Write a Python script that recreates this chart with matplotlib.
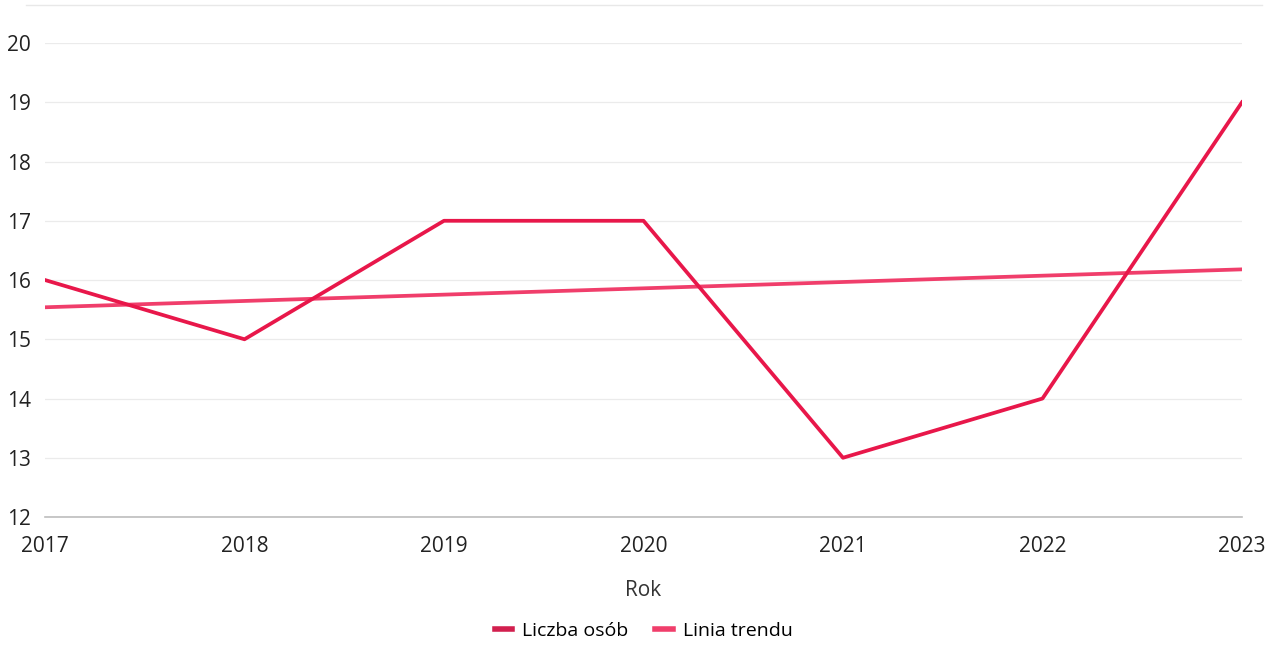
import matplotlib as mpl
import matplotlib.pyplot as plt

mpl.use('Agg')
plt.rcParams['font.family'] = ['Open Sans', 'DejaVu Sans']

years = [2017, 2018, 2019, 2020, 2021, 2022, 2023]
liczba_osob = [16, 15, 17, 17, 13, 14, 19]
trend_years = [2017, 2023]
trend_values = [15.54, 16.18]
y_ticks = [12, 13, 14, 15, 16, 17, 18, 19, 20]

fig = plt.figure(figsize=(12.75, 6.45), dpi=100)
ax = fig.add_axes([0.0353, 0.1984, 0.9388, 0.7349])

ax.plot(years, liczba_osob, color='#E8174A', lw=2.7, label='Liczba osób',
        zorder=3)
ax.plot(trend_years, trend_values, color='#F03E6B', lw=2.7, label='Linia trendu',
        zorder=2)

ax.set_xlim(2017, 2023)
ax.set_ylim(12, 20)
ax.set_yticks(y_ticks)
ax.set_xticks(years)
ax.grid(axis='y', color='#ebebeb', lw=0.9)
ax.set_axisbelow(True)
for s in ['top', 'right', 'left']:
    ax.spines[s].set_visible(False)
ax.spines['bottom'].set_color('#bdbdbd')
ax.spines['bottom'].set_linewidth(1.2)
ax.tick_params(length=0, labelsize=15, colors='#222222')
ax.tick_params(axis='y', pad=10)
ax.tick_params(axis='x', pad=14)

# faint line across the top of the chart
fig.add_artist(plt.Line2D([0.02, 0.99], [0.992, 0.992], color='#e8e8e8', lw=1))

ax.set_xlabel('Rok', fontsize=15, color='#333333', labelpad=16)

leg = ax.legend(loc='upper center', bbox_to_anchor=(0.5, -0.185), ncol=2,
                frameon=False, fontsize=14, handlelength=0.9, handletextpad=0.5,
                columnspacing=1.4)
leg.get_lines()[0].set_linewidth(4)
leg.get_lines()[0].set_color('#D21F4E')
leg.get_lines()[1].set_linewidth(4)

fig.savefig('out.png', dpi=100)
